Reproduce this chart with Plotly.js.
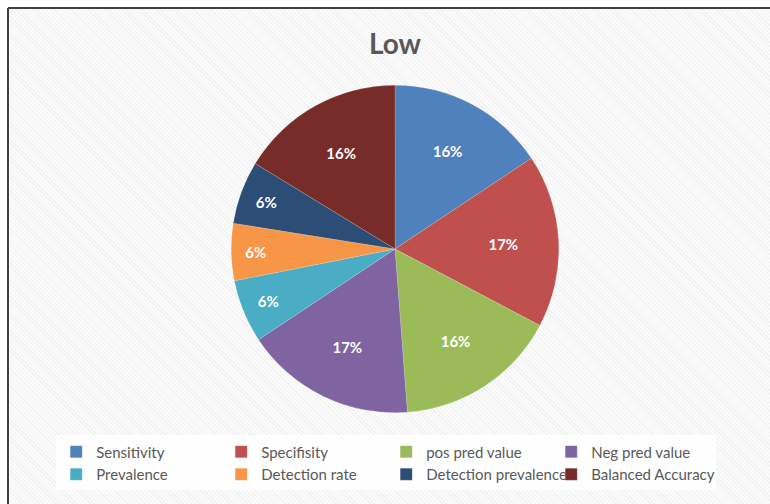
<!DOCTYPE html>
<html>
<head>
<meta charset="utf-8">
<script src="https://cdn.plot.ly/plotly-3.0.1.min.js"></script>
<style>
  html, body { margin: 0; padding: 0; background: #ffffff; }
  #wrap { position: relative; width: 770px; height: 504px; overflow: hidden; background: #ffffff; }
  #hatch { position: absolute; left: 9px; top: 9px; right: 0; bottom: 0;
    background: repeating-linear-gradient(45deg, #f1f1f1 0px, #f1f1f1 1px, #fbfbfb 1px, #fbfbfb 3px); }
  #chart { position: absolute; left: 0; top: 0; width: 770px; height: 504px; }
</style>
</head>
<body>
<div id="wrap"><div id="hatch"></div><div id="chart"></div></div>
<script>
const categories = ["Sensitivity", "Specifisity", "pos pred value", "Neg pred value",
                    "Prevalence", "Detection rate", "Detection prevalence", "Balanced Accuracy"];
const values = [0.78, 0.85, 0.80, 0.84, 0.31, 0.28, 0.31, 0.81];
const colors = ["#4F81BD", "#C0504D", "#9BBB59", "#8064A2", "#4BACC6", "#F79646", "#2C4D75", "#772C2A"];
const chartTitle = "Low";

const trace = {
  type: "pie",
  labels: categories,
  values: values,
  sort: false,
  direction: "clockwise",
  rotation: 0,
  marker: { colors: colors, line: { color: "rgba(255,255,255,0.3)", width: 0.5 } },
  texttemplate: "%{percent:.0%}",
  textposition: "inside",
  insidetextorientation: "horizontal",
  textfont: { family: "Lato, 'Open Sans', sans-serif", size: 15, color: "#ffffff", weight: "bold" },
  hoverinfo: "label+percent",
  domain: { x: [0.30, 0.726], y: [0.181, 0.831] }
};

const layout = {
  width: 770, height: 504,
  margin: { l: 0, r: 0, t: 0, b: 0 },
  paper_bgcolor: "rgba(0,0,0,0)",
  plot_bgcolor: "rgba(0,0,0,0)",
  title: { text: chartTitle, x: 0.513, xanchor: "center", y: 0.912, yanchor: "middle",
           font: { family: "Lato, 'Open Sans', sans-serif", size: 28, color: "#595959", weight: "bold" } },
  showlegend: true,
  legend: {
    orientation: "h", x: 0.073, xanchor: "left", y: 0.136, yanchor: "top",
    entrywidth: 120, entrywidthmode: "pixels",
    bgcolor: "rgba(255,255,255,0.85)",
    font: { family: "Lato, 'Open Sans', sans-serif", size: 15, color: "#595959" },
    traceorder: "normal"
  },
  shapes: [
    { type: "line", xref: "paper", yref: "paper", x0: 8/770, x1: 1, y0: 1 - 8/504, y1: 1 - 8/504,
      line: { color: "#404040", width: 2 } },
    { type: "line", xref: "paper", yref: "paper", x0: 8/770, x1: 8/770, y0: 0, y1: 1 - 8/504,
      line: { color: "#404040", width: 2 } }
  ]
};

Plotly.newPlot("chart", [trace], layout, { displayModeBar: false, staticPlot: true });
</script>
</body>
</html>
